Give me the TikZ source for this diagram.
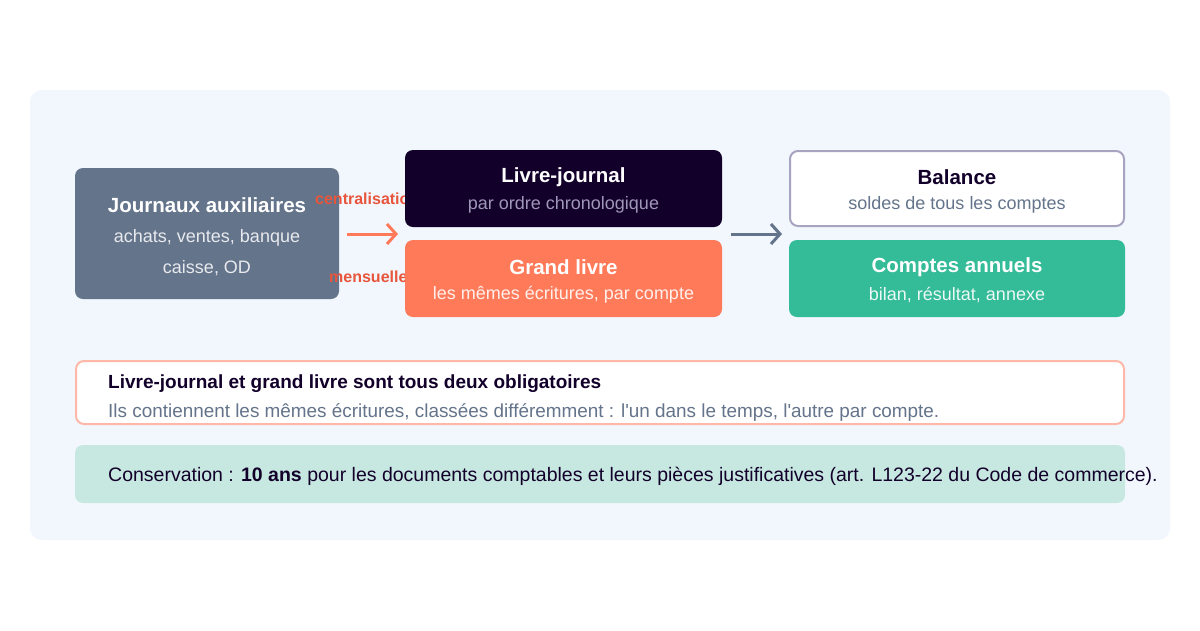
\documentclass[tikz,border=0pt]{standalone}
\usepackage{fontspec}
\setmainfont{Liberation Sans}
\usetikzlibrary{arrows.meta}
\definecolor{bg}{HTML}{F2F7FE}
\definecolor{slate}{HTML}{64748B}
\definecolor{ink}{HTML}{12002A}
\definecolor{coral}{HTML}{FF7A59}
\definecolor{teal}{HTML}{34BB98}
\definecolor{lav}{HTML}{A8A4C0}
\definecolor{sub}{HTML}{9F97B8}
\definecolor{lbl}{HTML}{E8553A}
\definecolor{pink}{HTML}{FFB8A8}
\definecolor{mint}{HTML}{C7E8E0}
\begin{document}
\begin{tikzpicture}[x=1pt,y=-1pt,
  box/.style={rounded corners=8pt},
  ttl/.style={font=\fontsize{20.5}{24}\selectfont\bfseries},
  st/.style={font=\fontsize{18}{21}\selectfont},
  lab/.style={font=\fontsize{16}{18}\selectfont\bfseries,text=lbl,anchor=west,inner sep=0},
  arr/.style={line width=3pt,-{Straight Barb[length=9pt,width=20pt]}}]
\useasboundingbox (0,0) rectangle (1200,630);
\fill[white] (0,0) rectangle (1200,630);
\fill[bg,rounded corners=12pt] (30,90) rectangle (1170,540);
\fill[slate,box] (75,168) rectangle (339,299);
\node[ttl,text=white] (ja) at (207,205) {Journaux auxiliaires};
\node[st,text=white!85!slate] (ja1) at (207,238) {achats, ventes, banque};
\node[st,text=white!85!slate] (ja2) at (207,268) {caisse, OD};
\node[lab] (l1) at (315,199) {centralisation};
\node[lab] (l2) at (329,277) {mensuelle};
\fill[ink,box] (405,150) rectangle (722,227);
\node[ttl,text=white] (lj) at (563.5,177) {Livre-journal};
\node[st,text=sub] (lj1) at (563.5,205) {par ordre chronologique};
\fill[coral,box] (405,240) rectangle (722,317);
\node[ttl,text=white] (gl) at (563.5,267) {Grand livre};
\node[st,text=white!88!coral] (gl1) at (563.5,295) {les mêmes écritures, par compte};
\filldraw[fill=white,draw=lav,line width=2pt,box] (790,151) rectangle (1124,226);
\node[ttl,text=ink] (ba) at (957,177) {Balance};
\node[st,text=slate] (ba1) at (957,205) {soldes de tous les comptes};
\fill[teal,box] (789,240) rectangle (1125,317);
\node[ttl,text=white] (ca) at (957,267) {Comptes annuels};
\node[st,text=white!90!teal] (ca1) at (957,295) {bilan, résultat, annexe};
\coordinate (a1) at (347,234); \coordinate (a2) at (398,234);
\draw[arr,coral] (a1) -- (a2);
\coordinate (b1) at (731,234); \coordinate (b2) at (782,234);
\draw[arr,slate] (b1) -- (b2);
\filldraw[fill=white,draw=pink,line width=2pt,box] (76,361) rectangle (1124,424);
\node[anchor=west,inner sep=0,font=\fontsize{19}{22}\selectfont\bfseries,text=ink] (n1) at (108,384) {Livre-journal et grand livre sont tous deux obligatoires};
\node[anchor=west,inner sep=0,font=\fontsize{18.9}{22}\selectfont,text=slate] (n2) at (108,412) {Ils contiennent les mêmes écritures, classées différemment : l\textquotesingle un dans le temps, l\textquotesingle autre par compte.};
\fill[mint,box] (75,445) rectangle (1125,503);
\node[anchor=west,inner sep=0,font=\fontsize{19.5}{22}\selectfont,text=ink] (c1) at (108,476) {Conservation : \textbf{10 ans} pour les documents comptables et leurs pièces justificatives (art. L123-22 du Code de commerce).};
\end{tikzpicture}
\end{document}
